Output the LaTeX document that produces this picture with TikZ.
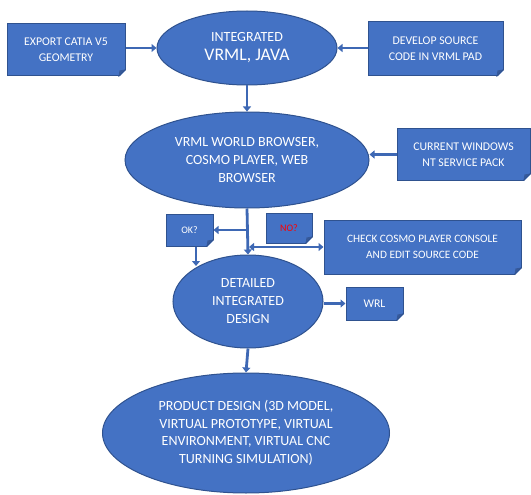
\documentclass[tikz,border=0pt]{standalone}
\usepackage{fontspec}
\setmainfont{Carlito}
\usetikzlibrary{arrows.meta,shapes.geometric,calc}
\definecolor{boxfill}{HTML}{4472C4}
\definecolor{boxline}{HTML}{2F528F}
\definecolor{conncol}{HTML}{3E68B4}
\definecolor{foldcol}{HTML}{36599A}
\tikzset{
  notebox/.style={rectangle,fill=boxfill,draw=boxline,line width=1pt,text=white,inner sep=0pt,align=center,font=\fontsize{11.8}{16}\selectfont},
  ellnode/.style={ellipse,fill=boxfill,draw=boxline,line width=1pt,text=white,inner sep=0pt,align=center,font=\fontsize{14}{18}\selectfont},
  conn/.style={draw=conncol,line width=2.8pt,-{Triangle[length=5pt,width=8pt]}},
  dconn/.style={draw=conncol,line width=2.8pt,{Triangle[length=5pt,width=8pt]}-{Triangle[length=5pt,width=8pt]}},
}
\newcommand{\foldcorner}[1]{%
  \fill[white] ([xshift=-7pt,yshift=-1.2pt]#1.south east) -- ([xshift=1.2pt,yshift=-1.2pt]#1.south east) -- ([xshift=1.2pt,yshift=7pt]#1.south east) -- cycle;
  \fill[foldcol] ([xshift=-7pt]#1.south east) -- ([yshift=7pt]#1.south east) -- ([xshift=-6pt,yshift=6pt]#1.south east) -- cycle;
  \draw[boxline,line width=0.8pt] ([xshift=-7pt]#1.south east) -- ([yshift=7pt]#1.south east);
}
\begin{document}
\begin{tikzpicture}[x=1pt,y=-1pt]
\useasboundingbox (0,0) rectangle (531,495);
% nodes
\node[notebox,minimum width=118pt,minimum height=52pt] (exp) at (66,50) {EXPORT CATIA V5\\GEOMETRY};
\node[ellnode,minimum width=180pt,minimum height=74pt] (i1) at (247,48) {{\fontsize{14}{14}\selectfont INTEGRATED}\\[1pt]{\fontsize{17.7}{18}\selectfont VRML, JAVA}};
\node[notebox,minimum width=135pt,minimum height=54pt] (dev) at (435.5,49) {DEVELOP SOURCE\\CODE IN VRML PAD};
\node[ellnode,minimum width=244pt,minimum height=96pt] (b2) at (247,160) {VRML WORLD BROWSER,\\COSMO PLAYER, WEB\\BROWSER};
\node[notebox,minimum width=133pt,minimum height=51pt] (win) at (463.5,154.5) {CURRENT WINDOWS\\NT SERVICE PACK};
\node[notebox,minimum width=47pt,minimum height=32pt,font=\fontsize{10}{11}\selectfont] (ok) at (189.5,230) {OK?};
\node[notebox,minimum width=46pt,minimum height=30pt,font=\fontsize{10}{11}\selectfont,text=red] (no) at (289,228) {NO?};
\node[notebox,minimum width=197pt,minimum height=54pt,font=\fontsize{11.3}{16}\selectfont] (chk) at (422.5,247) {CHECK COSMO PLAYER CONSOLE\\AND EDIT SOURCE CODE};
\node[ellnode,minimum width=150pt,minimum height=93pt] (d3) at (248,301.5) {DETAILED\\INTEGRATED\\DESIGN};
\node[notebox,minimum width=57pt,minimum height=33pt] (wrl) at (374.5,303.5) {WRL};
\node[ellnode,minimum width=287pt,minimum height=120pt,font=\fontsize{14}{17.5}\selectfont] (p4) at (246,433) {PRODUCT DESIGN (3D MODEL,\\VIRTUAL PROTOTYPE, VIRTUAL\\ENVIRONMENT, VIRTUAL CNC\\TURNING SIMULATION)};
\foreach \n in {exp,dev,win,ok,no,chk,wrl} {\foldcorner{\n}}
% connectors
\draw[conn] (exp.east |- i1.west) -- (i1.west);
\draw[conn] (dev.west |- i1.east) -- (i1.east);
\draw[conn] (i1.south) -- (b2.north);
\draw[conn] (win.west) -- (win.west -| b2.east);
\draw[conn] (b2.south) -- (d3.north);
\draw[conn] (ok.east -| b2.south) -- (ok.east);
\coordinate (okend) at (196,266);
\draw[conn] (ok.south -| okend) -- (okend);
\draw[dconn] ([xshift=2pt]chk.west -| b2.south) -- (chk.west);
\draw[conn] (d3.east |- wrl.west) -- (wrl.west);
\draw[conn] (d3.south) -- (p4.north);
\end{tikzpicture}
\end{document}
